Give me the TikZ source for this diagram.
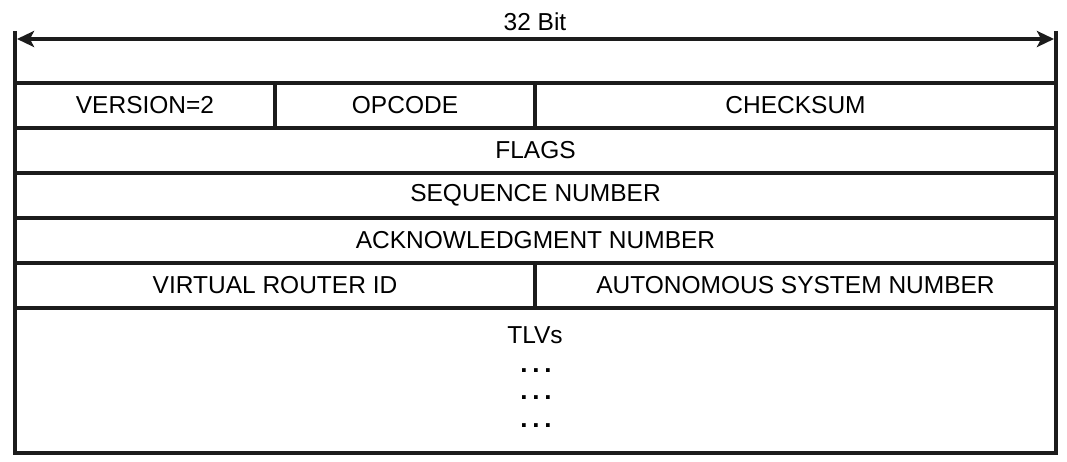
\documentclass[tikz,border=0pt]{standalone}
\usepackage{fontspec}
\setmainfont{Liberation Sans}
\usetikzlibrary{arrows.meta}
\definecolor{ink}{HTML}{1C1C1C}
\begin{document}
\begin{tikzpicture}[x=1pt,y=-1pt,
  rule/.style={draw=ink,line width=3.6pt},
  field/.style={rule,rectangle,inner sep=0pt,outer sep=0pt,anchor=north west,
    font=\fontsize{24.5}{29}\selectfont},
  lbl/.style={inner sep=0pt,font=\fontsize{24.5}{29}\selectfont}]
\useasboundingbox (0,0) rectangle (1067,462);
% width marker above the header
\coordinate (L) at (15,39);
\coordinate (R) at (1056,39);
\draw[rule] (15,31) -- (15,83);
\draw[rule] (1056,31) -- (1056,83);
\draw[draw=ink,line width=3.6pt,
  {Stealth[length=17pt,width=16pt,inset=4pt]}-{Stealth[length=17pt,width=16pt,inset=4pt]},
  shorten <=2pt, shorten >=2pt] (L) -- (R);
\node[lbl] (bits) at (535,22) {32 Bit};
% header fields, one row per 32-bit word
\node[field,minimum width=260pt,minimum height=45pt] (ver) at (15,83) {VERSION=2};
\node[field,minimum width=260pt,minimum height=45pt] (op) at (275,83) {OPCODE};
\node[field,minimum width=521pt,minimum height=45pt] (cks) at (535,83) {CHECKSUM};
\node[field,minimum width=1041pt,minimum height=45pt] (flags) at (15,128) {FLAGS};
\node[field,minimum width=1041pt,minimum height=45pt] (seq) at (15,173) {SEQUENCE NUMBER};
\node[field,minimum width=1041pt,minimum height=45pt] (ack) at (15,218) {ACKNOWLEDGMENT NUMBER};
\node[field,minimum width=520pt,minimum height=45pt] (vrid) at (15,263) {VIRTUAL ROUTER ID};
\node[field,minimum width=521pt,minimum height=45pt] (asn) at (535,263) {AUTONOMOUS SYSTEM NUMBER};
\node[field,minimum width=1041pt,minimum height=145pt] (tlv) at (15,308) {};
\node[lbl] (tlvtxt) at (535,335) {TLVs};
\foreach \y/\n in {371/d1,398/d2,426/d3}
  \node[lbl,font=\fontsize{26}{30}\selectfont\bfseries] (\n) at (536,\y) {.\hspace{4.8pt}.\hspace{4.8pt}.};
\end{tikzpicture}
\end{document}
